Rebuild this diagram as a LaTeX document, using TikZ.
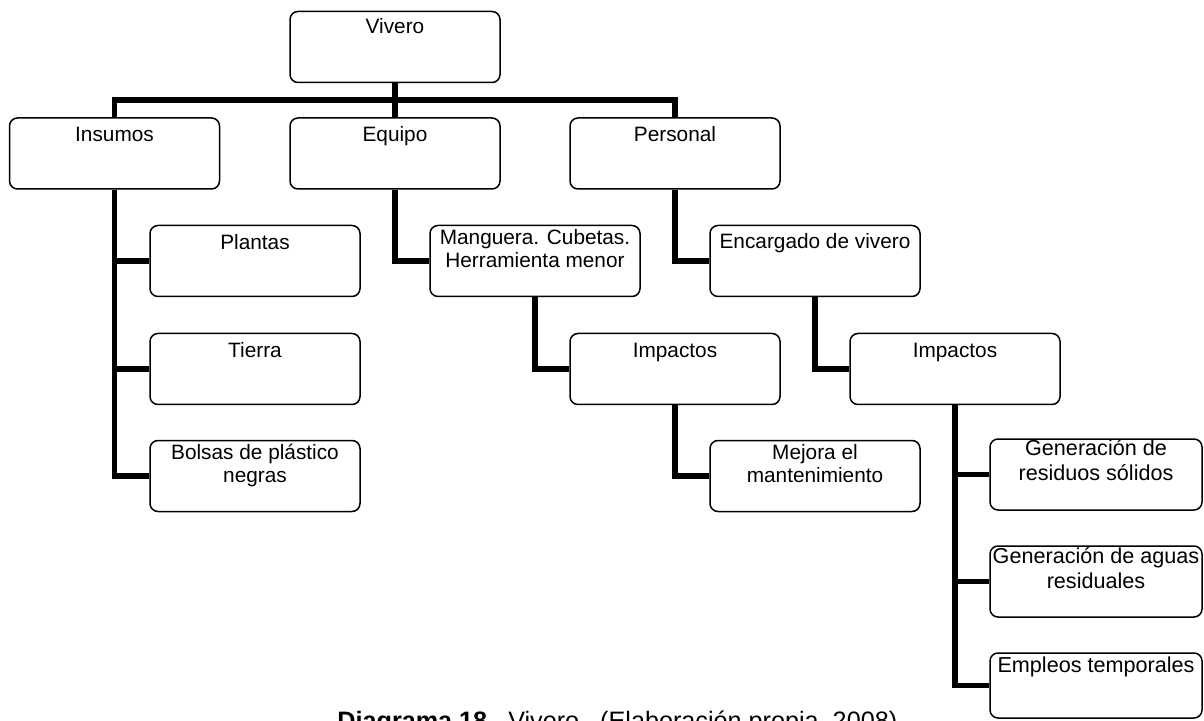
\documentclass[tikz,border=0pt]{standalone}
\usepackage{fontspec}
\setmainfont{Liberation Sans}
\newcommand{\boxfont}{\fontsize{10.4}{11.5}\selectfont}
\newcommand{\capfont}{\fontsize{12.6}{15}\selectfont}
\begin{document}
\begin{tikzpicture}[x=0.5pt,y=-0.5pt]
\tikzset{
  box/.style={draw, rounded corners=4pt, line width=0.75pt,
              minimum width=105pt, minimum height=35.5pt, inner sep=0},
  lbl/.style={anchor=north, inner sep=0, align=center, font=\boxfont,
              execute at begin node={\rule{0pt}{10pt}}},
  link/.style={line width=2.6pt},
}
\useasboundingbox (0,0) rectangle (1204,721);

% boxes
\node[box] (viv)  at (395,47)    {};
\node[box] (ins)  at (114.5,153.5) {};
\node[box] (equ)  at (395,153.5) {};
\node[box] (per)  at (675,153.5) {};
\node[box] (pla)  at (255,261)   {};
\node[box] (tie)  at (255,369)   {};
\node[box] (bol)  at (255,476)   {};
\node[box] (man)  at (535,261)   {};
\node[box] (impA) at (675,369)   {};
\node[box] (mej)  at (815,476)   {};
\node[box] (enc)  at (815,261)   {};
\node[box] (impB) at (955,369)   {};
\node[box, minimum width=106pt] (genA) at (1096,474.5) {};
\node[box, minimum width=106pt] (genB) at (1096,581.5) {};
\node[box, minimum width=106pt, minimum height=32.5pt] (emp) at (1096,685.5) {};

% texts
\node[lbl] (vivT)  at ([yshift=-1pt]viv.north)  {Vivero};
\node[lbl] (insT)  at ([yshift=-2pt]ins.north)  {Insumos};
\node[lbl] (equT)  at ([yshift=-2pt]equ.north)  {Equipo};
\node[lbl] (perT)  at ([yshift=-2pt]per.north)  {Personal};
\node[lbl] (plaT)  at ([yshift=-2pt]pla.north)  {Plantas};
\node[lbl] (tieT)  at ([yshift=-2pt]tie.north)  {Tierra};
\node[lbl] (bolT)  at ([yshift=-2pt]bol.north)  {Bolsas de plástico\\negras};
\node[lbl] (manT)  at ([yshift=-2pt]man.north)  {Manguera. Cubetas.\\Herramienta menor};
\node[lbl] (impAT) at ([yshift=-2pt]impA.north) {Impactos};
\node[lbl] (mejT)  at ([yshift=-2pt]mej.north)  {Mejora el\\mantenimiento};
\node[lbl] (encT)  at ([yshift=-1.5pt]enc.north) {Encargado de vivero};
\node[lbl] (impBT) at ([yshift=-2pt]impB.north) {Impactos};
\node[lbl, font=\fontsize{10.8}{12.5}\selectfont] (genAT) at ([yshift=-0.5pt]genA.north) {Generación de\\residuos sólidos};
\node[lbl, font=\fontsize{10.8}{12.5}\selectfont] (genBT) at ([yshift=-1pt]genB.north) {Generación de aguas\\residuales};
\node[lbl, font=\fontsize{10.8}{12.5}\selectfont] (empT)  at ([yshift=0pt]emp.north)   {Empleos temporales};

% connectors
\coordinate (bus) at (395,100);
\draw[link] (viv.south) -- (equ.north);
\draw[link] (ins.north) |- (bus) -| (per.north);

\draw[link] (ins.south) |- (bol.west);
\draw[link] (ins.south |- pla.west) -- (pla.west);
\draw[link] (ins.south |- tie.west) -- (tie.west);

\draw[link] (equ.south) |- (man.west);
\draw[link] (man.south) |- (impA.west);
\draw[link] (impA.south) |- (mej.west);

\draw[link] (per.south) |- (enc.west);
\draw[link] (enc.south) |- (impB.west);
\draw[link] (impB.south) |- (emp.west);
\draw[link] (impB.south |- genA.west) -- (genA.west);
\draw[link] (impB.south |- genB.west) -- (genB.west);

% caption
\node[anchor=base west, inner sep=0, font=\capfont] (cap) at (337,729)
  {\textbf{Diagrama 18.}\ \ Vivero.\ \ (Elaboración propia, 2008)};
\end{tikzpicture}
\end{document}
